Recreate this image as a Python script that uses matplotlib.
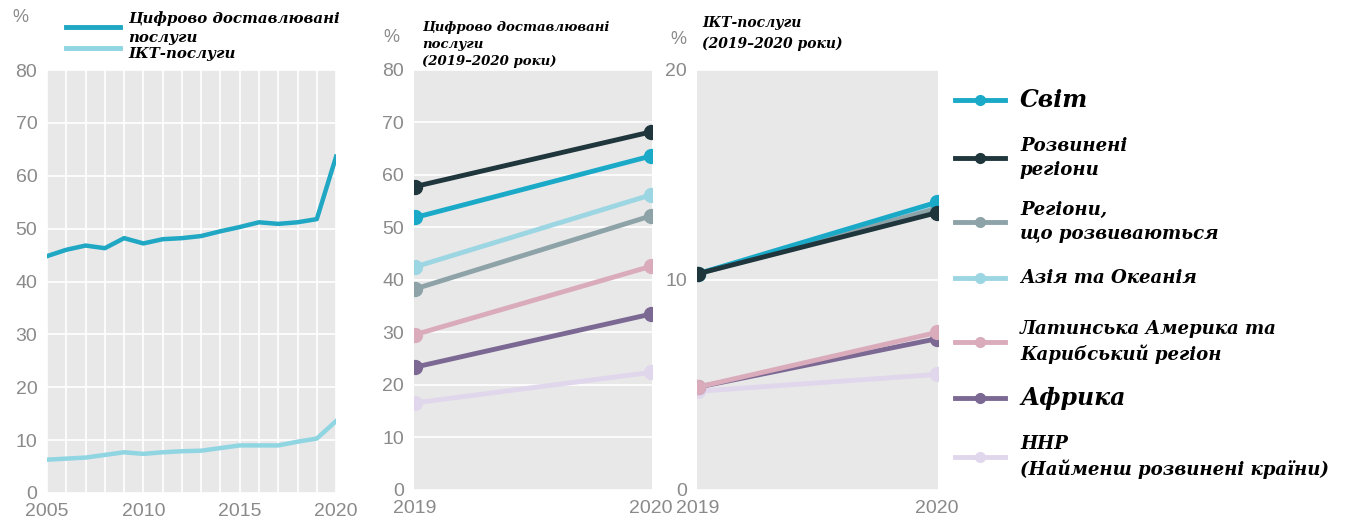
import matplotlib.pyplot as plt
from matplotlib.lines import Line2D

# panel 1: share of digitally deliverable / ICT services, 2005-2020
years = list(range(2005, 2021))
digital = [44.8, 46.0, 46.8, 46.3, 48.2, 47.2, 48.0, 48.2, 48.6, 49.5, 50.3, 51.2, 50.9, 51.2, 51.8, 63.6]
ict = [6.3, 6.5, 6.7, 7.2, 7.7, 7.4, 7.7, 7.9, 8.0, 8.5, 9.0, 9.0, 9.0, 9.7, 10.3, 13.6]

# panels 2 and 3: regions, 2019 -> 2020
yrs2 = [2019, 2020]
regions = ['Світ', 'Розвинені\nрегіони', 'Регіони,\nщо розвиваються', 'Азія та Океанія',
           'Латинська Америка та\nКарибський регіон', 'Африка', 'ННР\n(Найменш розвинені країни)']
reg_digital = [[51.9, 63.6], [57.8, 68.2], [38.3, 52.2], [42.5, 56.2], [29.6, 42.6], [23.4, 33.5], [16.6, 22.4]]
reg_ict = [[10.3, 13.7], [10.3, 13.2], [10.3, 13.4], [10.3, 13.5], [4.9, 7.5], [4.9, 7.2], [4.7, 5.5]]
colors = ['#1aaac8', '#1f363c', '#8ea3a8', '#9dd6e3', '#d9abbb', '#7b6994', '#e0d7ec']
draw_order = [6, 5, 4, 3, 2, 0, 1]
draw_order_ict = [3, 2, 6, 5, 4, 0, 1]

serif = 'DejaVu Serif'
sans = 'Liberation Sans'
tick_col = '#8a8a8a'
bg = '#e8e8e8'

fig = plt.figure(figsize=(13.48, 5.28), dpi=100)

def style(ax, ylim, yticks):
    ax.set_facecolor(bg)
    for s in ax.spines.values():
        s.set_visible(False)
    ax.set_ylim(*ylim)
    ax.set_yticks(yticks)
    ax.tick_params(length=0, labelsize=14, labelcolor=tick_col, pad=7)
    ax.ticklabel_format(useOffset=False, style='plain')
    for lab in ax.get_xticklabels() + ax.get_yticklabels():
        lab.set_fontfamily(sans)
    ax.grid(axis='y', color='white', lw=1.2)
    ax.set_axisbelow(True)

def pct(x, y):
    fig.text(x / 1348, 1 - y / 528, '%', fontsize=13, color=tick_col, family=sans, va='center')

# panel 1
ax1 = fig.add_axes([0.0349, 0.0663, 0.2144, 0.8011])
ax1.plot(years, digital, color='#1fa7c3', lw=3.2, solid_joinstyle='round')
ax1.plot(years, ict, color='#90d5e2', lw=3.2, solid_joinstyle='round')
ax1.set_xlim(2005, 2020)
ax1.set_xticks(years, minor=True)
ax1.set_xticks([2005, 2010, 2015, 2020])
style(ax1, (0, 80), range(0, 81, 10))
ax1.grid(axis='x', which='both', color='white', lw=1.2)
ax1.tick_params(which='minor', length=0)
pct(12, 17)
fig.add_artist(Line2D([0.049, 0.089], [0.948, 0.948], color='#1fa7c3', lw=3.5))
fig.add_artist(Line2D([0.049, 0.089], [0.909, 0.909], color='#90d5e2', lw=3.5))
fig.text(0.095, 0.965, 'Цифрово доставлювані', fontsize=10.8, family=serif, weight='bold', style='italic', va='center')
fig.text(0.095, 0.928, 'послуги', fontsize=10.8, family=serif, weight='bold', style='italic', va='center')
fig.text(0.095, 0.897, 'ІКТ-послуги', fontsize=10.8, family=serif, weight='bold', style='italic', va='center')

# panel 2
ax2 = fig.add_axes([0.3071, 0.072, 0.1766, 0.7955])
for i in draw_order:
    ax2.plot(yrs2, reg_digital[i], color=colors[i], lw=3.5, marker='o', ms=10)
ax2.set_xlim(2018.995, 2020.005)
ax2.set_xticks(yrs2)
style(ax2, (0, 80), range(0, 81, 10))
pct(383, 37)
fig.text(422 / 1348, 1 - 21 / 528, 'Цифрово доставлювані\nпослуги\n(2019–2020 роки)',
         fontsize=9.5, family=serif, weight='bold', style='italic', va='top', linespacing=1.42)

# panel 3
ax3 = fig.add_axes([0.517, 0.072, 0.1788, 0.7955])
for i in draw_order_ict:
    ax3.plot(yrs2, reg_ict[i], color=colors[i], lw=3.5, marker='o', ms=10)
ax3.set_xlim(2018.995, 2020.005)
ax3.set_xticks(yrs2)
style(ax3, (0, 20), [0, 10, 20])
pct(670, 39)
fig.text(702 / 1348, 1 - 16 / 528, 'ІКТ-послуги\n(2019–2020 роки)',
         fontsize=10, family=serif, weight='bold', style='italic', va='top', linespacing=1.55)

# right legend
leg_y = [100, 158, 222, 278, 342, 398, 457]
for i, name in enumerate(regions):
    yy = 1 - leg_y[i] / 528
    fig.add_artist(Line2D([955 / 1348, 1005 / 1348], [yy, yy], color=colors[i], lw=3.5))
    fig.add_artist(Line2D([980 / 1348], [yy], color=colors[i], marker='o', ms=7))
    big = i in (0, 5)
    fig.text(1020 / 1348, yy, name, fontsize=17 if big else 13.1, family=serif, weight='bold',
             style='italic', va='center', linespacing=1.45)

fig.savefig('out.png', dpi=100)
